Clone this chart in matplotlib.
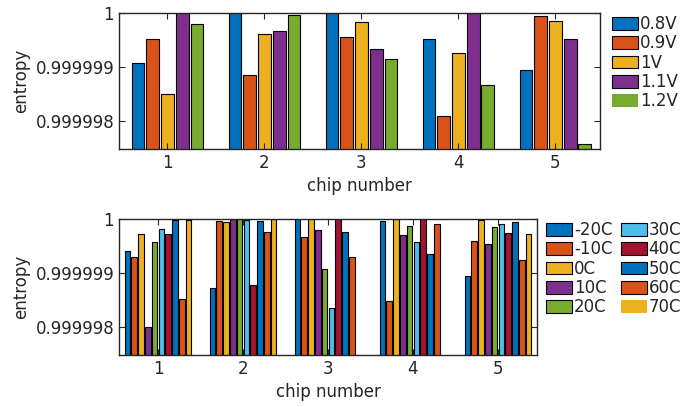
import numpy as np
import matplotlib
matplotlib.use('Agg')
import matplotlib.pyplot as plt

# datos
chips = [1, 2, 3, 4, 5]

volt_labels = ['0.8V', '0.9V', '1V', '1.1V', '1.2V']
v08 = [0.99999907, 1.0, 1.0, 0.99999952, 0.99999894]
v09 = [0.99999952, 0.99999885, 0.99999956, 0.99999809, 0.99999994]
v10 = [0.99999850, 0.99999961, 0.99999983, 0.99999926, 0.99999985]
v11 = [1.0, 0.99999967, 0.99999933, 1.0, 0.99999952]
v12 = [0.99999980, 0.99999996, 0.99999915, 0.99999867, 0.99999757]

temp_labels = ['-20C', '-10C', '0C', '10C', '20C', '30C', '40C', '50C', '60C', '70C']
t_m20 = [0.99999941, 0.99999872, 1.0, 0.99999996, 0.99999894]
t_m10 = [0.99999929, 0.99999996, 0.99999967, 0.99999848, 0.99999960]
t_0 = [0.99999972, 0.99999994, 1.0, 1.0, 0.99999998]
t_10 = [0.99999800, 1.0, 0.99999979, 0.99999970, 0.99999954]
t_20 = [0.99999957, 1.0, 0.99999907, 0.99999987, 0.99999985]
t_30 = [0.99999981, 0.99999998, 0.99999835, 0.99999957, 0.99999991]
t_40 = [0.99999972, 0.99999877, 1.0, 1.0, 0.99999974]
t_50 = [0.99999998, 0.99999996, 0.99999975, 0.99999935, 0.99999994]
t_60 = [0.99999851, 0.99999976, 0.99999930, 0.99999991, 0.99999924]
t_70 = [0.99999998, 1.0, np.nan, np.nan, 0.99999972]

ytick_vals = [0.999998, 0.999999, 1.0]
ytick_labels = ['0.999998', '0.999999', '1']

# colores de MATLAB
c_blue = '#0072BD'
c_orange = '#D95319'
c_yellow = '#EDB120'
c_purple = '#7E2F8E'
c_green = '#77AC30'
c_cyan = '#4DBEEE'
c_red = '#A2142F'
gris = '#262626'

plt.rcParams['font.family'] = 'DejaVu Sans'
plt.rcParams['font.size'] = 12
plt.rcParams['text.color'] = gris
plt.rcParams['axes.labelcolor'] = gris
plt.rcParams['xtick.color'] = gris
plt.rcParams['ytick.color'] = gris

fig = plt.figure(figsize=(6.93, 4.07), dpi=100)
ax1 = fig.add_axes([119/693, 1-149/407, (600-119)/693, 136/407])
ax2 = fig.add_axes([119/693, 1-355/407, (537-119)/693, 136/407])


def grupo_barras(ax, series, colores, labels, slot, ancho):
    x = np.array(chips, dtype=float)
    n = len(series)
    for i, (vals, col, lab) in enumerate(zip(series, colores, labels)):
        off = (i - (n - 1) / 2) * slot
        ax.bar(x + off, vals, width=ancho, color=col, edgecolor='black',
               linewidth=0.8, label=lab)


def estilo(ax, xlim):
    ax.set_xlim(*xlim)
    ax.set_ylim(0.99999748, 1.0)
    ax.set_xticks(chips)
    ax.set_yticks(ytick_vals, ytick_labels)
    ax.tick_params(direction='in', length=4, top=True, right=True, width=0.8)
    for s in ax.spines.values():
        s.set_linewidth(1.0)
        s.set_color(gris)
    ax.set_xlabel('chip number')
    ax.set_ylabel('entropy')


grupo_barras(ax1, [v08, v09, v10, v11, v12],
             [c_blue, c_orange, c_yellow, c_purple, c_green],
             volt_labels, 0.152, 0.132)
estilo(ax1, (0.5, 5.46))

grupo_barras(ax2, [t_m20, t_m10, t_0, t_10, t_20, t_30, t_40, t_50, t_60, t_70],
             [c_blue, c_orange, c_yellow, c_purple, c_green,
              c_cyan, c_red, c_blue, c_orange, c_yellow],
             temp_labels, 0.08, 0.066)
estilo(ax2, (0.54, 5.46))

leg1 = ax1.legend(loc='upper left', bbox_to_anchor=(612/693, 1-15/407),
                  bbox_transform=fig.transFigure, frameon=False,
                  borderpad=0, borderaxespad=0, handlelength=1.55,
                  handleheight=0.8, handletextpad=0.12, labelspacing=0.08)
leg1.legend_handles[-1].set_edgecolor('none')

leg2 = ax2.legend(loc='upper left', bbox_to_anchor=(546/693, 1-221/407),
                  bbox_transform=fig.transFigure, frameon=False, ncol=2,
                  borderpad=0, borderaxespad=0, handlelength=1.55,
                  handleheight=0.8, handletextpad=0.12, labelspacing=0.08,
                  columnspacing=0.5)
leg2.legend_handles[-1].set_edgecolor('none')

fig.savefig('out.png', dpi=100)
